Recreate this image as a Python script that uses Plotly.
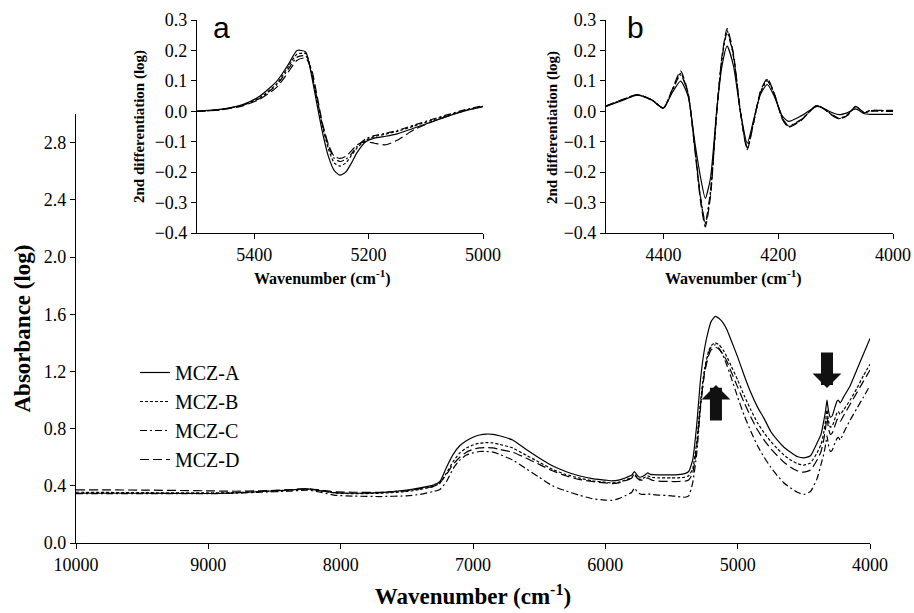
import plotly.graph_objects as go

# ---------------- main spectrum data ----------------
wn = [10000, 9500, 9000, 8800, 8600, 8400, 8250, 8150, 8050, 7900, 7700, 7500, 7400, 7300, 7250, 7200,
      7150, 7100, 7050, 7000, 6950, 6900, 6850, 6800, 6700, 6600, 6500, 6400, 6300, 6200, 6100, 6000,
      5950, 5900, 5850, 5800, 5780, 5760, 5740, 5720, 5700, 5680, 5660, 5640, 5600, 5500, 5450, 5400,
      5370, 5340, 5310, 5280, 5250, 5220, 5200, 5170, 5140, 5110, 5080, 5050, 5000, 4950, 4900, 4850,
      4800, 4750, 4700, 4650, 4600, 4550, 4500, 4450, 4400, 4370, 4350, 4335, 4325, 4315, 4300, 4285,
      4265, 4250, 4240, 4225, 4200, 4150, 4100, 4050, 4000]

mcz_a = [0.348, 0.348, 0.346, 0.35, 0.36, 0.37, 0.378, 0.365, 0.352, 0.348, 0.352, 0.37, 0.385, 0.405, 0.43, 0.53,
         0.62, 0.68, 0.715, 0.74, 0.755, 0.762, 0.76, 0.75, 0.72, 0.655, 0.595, 0.54, 0.50, 0.47, 0.45, 0.44,
         0.435, 0.44, 0.455, 0.475, 0.50, 0.475, 0.46, 0.465, 0.475, 0.49, 0.48, 0.478, 0.477, 0.476, 0.478, 0.485,
         0.50, 0.58, 0.82, 1.15, 1.36, 1.49, 1.55, 1.585, 1.57, 1.54, 1.49, 1.42, 1.30, 1.17, 1.05, 0.95,
         0.87, 0.78, 0.72, 0.67, 0.635, 0.605, 0.595, 0.61, 0.70, 0.76, 0.85, 0.93, 1.00, 0.93, 0.88, 0.89,
         0.95, 0.99, 1.00, 0.98, 1.02, 1.10, 1.21, 1.32, 1.43]

mcz_b = [0.355, 0.352, 0.35, 0.352, 0.36, 0.368, 0.375, 0.365, 0.35, 0.345, 0.348, 0.36, 0.375, 0.395, 0.42, 0.49,
         0.57, 0.63, 0.665, 0.685, 0.698, 0.702, 0.70, 0.69, 0.665, 0.615, 0.565, 0.515, 0.48, 0.455, 0.435, 0.425,
         0.42, 0.425, 0.44, 0.46, 0.48, 0.46, 0.445, 0.45, 0.46, 0.47, 0.462, 0.458, 0.456, 0.455, 0.456, 0.46,
         0.47, 0.52, 0.70, 1.0, 1.22, 1.34, 1.38, 1.40, 1.385, 1.35, 1.30, 1.24, 1.14, 1.03, 0.93, 0.84,
         0.77, 0.71, 0.66, 0.615, 0.58, 0.555, 0.545, 0.56, 0.63, 0.69, 0.77, 0.86, 0.93, 0.86, 0.81, 0.82,
         0.87, 0.91, 0.92, 0.90, 0.93, 1.00, 1.08, 1.17, 1.25]

mcz_c = [0.345, 0.345, 0.345, 0.348, 0.355, 0.362, 0.37, 0.355, 0.335, 0.328, 0.325, 0.33, 0.34, 0.36, 0.375, 0.43,
         0.52, 0.58, 0.615, 0.63, 0.64, 0.64, 0.635, 0.62, 0.58, 0.52, 0.46, 0.40, 0.365, 0.335, 0.31, 0.30,
         0.298, 0.31, 0.33, 0.355, 0.385, 0.36, 0.345, 0.34, 0.34, 0.345, 0.34, 0.338, 0.335, 0.33, 0.325, 0.32,
         0.33, 0.42, 0.62, 0.95, 1.20, 1.33, 1.37, 1.385, 1.36, 1.31, 1.24, 1.16, 1.02, 0.89, 0.78, 0.68,
         0.60, 0.53, 0.47, 0.42, 0.385, 0.355, 0.34, 0.36, 0.45, 0.55, 0.62, 0.69, 0.75, 0.69, 0.64, 0.65,
         0.70, 0.73, 0.74, 0.72, 0.77, 0.86, 0.94, 1.02, 1.10]

mcz_d = [0.372, 0.37, 0.365, 0.362, 0.365, 0.372, 0.38, 0.37, 0.358, 0.355, 0.355, 0.365, 0.38, 0.395, 0.42, 0.48,
         0.55, 0.60, 0.635, 0.655, 0.665, 0.668, 0.665, 0.655, 0.635, 0.595, 0.55, 0.505, 0.47, 0.445, 0.43, 0.42,
         0.415, 0.42, 0.435, 0.455, 0.475, 0.455, 0.44, 0.44, 0.445, 0.455, 0.445, 0.437, 0.433, 0.43, 0.43, 0.432,
         0.44, 0.49, 0.67, 0.97, 1.19, 1.31, 1.35, 1.37, 1.355, 1.32, 1.27, 1.20, 1.09, 0.98, 0.88, 0.79,
         0.72, 0.66, 0.61, 0.565, 0.53, 0.505, 0.495, 0.51, 0.58, 0.64, 0.72, 0.81, 0.88, 0.81, 0.76, 0.77,
         0.82, 0.86, 0.87, 0.85, 0.89, 0.97, 1.05, 1.13, 1.21]

# ---------------- inset a (2nd derivative, 5500-5000) ----------------
wn_a = [5500, 5460, 5420, 5390, 5360, 5340, 5325, 5310, 5300, 5290, 5280, 5270, 5260, 5250, 5240, 5230,
        5220, 5205, 5190, 5170, 5150, 5120, 5090, 5060, 5030, 5000]
a_a = [0.0, 0.006, 0.022, 0.05, 0.10, 0.155, 0.20, 0.195, 0.12, 0.02, -0.075, -0.15, -0.195, -0.21, -0.20, -0.17,
       -0.135, -0.10, -0.088, -0.082, -0.074, -0.055, -0.035, -0.015, 0.002, 0.015]
a_b = [0.0, 0.005, 0.02, 0.045, 0.092, 0.148, 0.188, 0.19, 0.13, 0.035, -0.055, -0.125, -0.17, -0.18, -0.17, -0.145,
       -0.12, -0.095, -0.083, -0.075, -0.066, -0.048, -0.03, -0.012, 0.004, 0.016]
a_c = [0.0, 0.005, 0.02, 0.043, 0.088, 0.14, 0.178, 0.182, 0.13, 0.04, -0.05, -0.115, -0.155, -0.165, -0.158, -0.14,
       -0.115, -0.09, -0.08, -0.072, -0.063, -0.045, -0.027, -0.01, 0.006, 0.018]
a_d = [0.0, 0.004, 0.018, 0.04, 0.08, 0.13, 0.168, 0.175, 0.14, 0.05, -0.045, -0.11, -0.148, -0.155, -0.148, -0.13,
       -0.11, -0.10, -0.105, -0.11, -0.095, -0.06, -0.035, -0.015, 0.003, 0.016]

# ---------------- inset b (2nd derivative, 4500-4000) ----------------
wn_b = [4500, 4475, 4445, 4420, 4400, 4385, 4370, 4357, 4345, 4335, 4327, 4318, 4307, 4298, 4289, 4278, 4266,
        4254, 4243, 4231, 4219, 4207, 4193, 4182, 4160, 4132, 4105, 4094, 4080, 4065, 4050, 4040, 4020, 4000]
b_a = [0.016, 0.033, 0.053, 0.037, 0.011, 0.06, 0.099, 0.05, -0.105, -0.22, -0.286, -0.22, 0.005, 0.148, 0.214, 0.15, 0.0,
       -0.105, -0.03, 0.055, 0.088, 0.05, -0.015, -0.033, -0.015, 0.016, -0.005, -0.011, -0.005, 0.008, -0.008, -0.01, -0.01, -0.01]
b_b = [0.017, 0.035, 0.054, 0.037, 0.010, 0.068, 0.125, 0.058, -0.125, -0.29, -0.37, -0.27, 0.0, 0.175, 0.265, 0.185, 0.0,
       -0.122, -0.038, 0.062, 0.104, 0.058, -0.022, -0.05, -0.028, 0.019, -0.013, -0.024, -0.013, 0.015, -0.005, 0.002, 0.002, 0.002]
b_c = [0.017, 0.035, 0.054, 0.037, 0.010, 0.066, 0.12, 0.056, -0.122, -0.285, -0.365, -0.265, 0.0, 0.172, 0.26, 0.18, 0.0,
       -0.12, -0.036, 0.06, 0.10, 0.056, -0.02, -0.048, -0.027, 0.018, -0.012, -0.023, -0.012, 0.014, -0.004, 0.0, 0.0, 0.0]
b_d = [0.018, 0.036, 0.055, 0.037, 0.010, 0.07, 0.132, 0.06, -0.13, -0.30, -0.38, -0.28, 0.0, 0.18, 0.272, 0.19, 0.0,
       -0.126, -0.04, 0.065, 0.108, 0.06, -0.025, -0.052, -0.03, 0.02, -0.015, -0.025, -0.015, 0.016, -0.005, 0.003, 0.003, 0.003]

names = ["MCZ-A", "MCZ-B", "MCZ-C", "MCZ-D"]
dashes = ["solid", "3px,2px", "7px,3px,2px,3px", "9px,4px"]

SERIF = "Liberation Serif, Times New Roman, Times, serif"
fig = go.Figure()

for name, ys, dash in zip(names, [mcz_a, mcz_b, mcz_c, mcz_d], dashes):
    fig.add_trace(go.Scatter(x=wn, y=ys, mode="lines", name=name,
                             line=dict(color="black", width=1.2, dash=dash, shape="spline", smoothing=0.5),
                             xaxis="x", yaxis="y"))
for ys, dash in zip([a_a, a_b, a_c, a_d], dashes):
    fig.add_trace(go.Scatter(x=wn_a, y=ys, mode="lines", showlegend=False,
                             line=dict(color="black", width=1.2, dash=dash, shape="spline", smoothing=0.6),
                             xaxis="x2", yaxis="y2"))
for ys, dash in zip([b_a, b_b, b_c, b_d], dashes):
    fig.add_trace(go.Scatter(x=wn_b, y=ys, mode="lines", showlegend=False,
                             line=dict(color="black", width=1.2, dash=dash, shape="spline", smoothing=0.6),
                             xaxis="x3", yaxis="y3"))

# the page body margin is removed (post_script below), so the figure fills the window
W, H = 914, 613
def px_x(p):
    return p / W
def px_y(p):
    return (H - p) / H

axis_common = dict(showline=True, linecolor="black", linewidth=1.2, ticks="outside", ticklen=5,
                   tickcolor="black", tickwidth=1.2, showgrid=False, zeroline=False, automargin=False,
                   tickfont=dict(family=SERIF, size=18, color="black"))

fig.update_layout(
    width=W, height=H, margin=dict(l=0, r=0, t=0, b=0, autoexpand=False),
    paper_bgcolor="white", plot_bgcolor="rgba(0,0,0,0)",
    font=dict(family=SERIF, color="black"),
    xaxis=dict(domain=[px_x(76), px_x(870)], range=[10000, 4000], tickvals=[10000, 9000, 8000, 7000, 6000, 5000, 4000],
               tickformat="d", anchor="y",
               title=dict(text="<b>Wavenumber (cm<sup>-1</sup>)</b>", font=dict(family=SERIF, size=23, color="black"),
                          standoff=14),
               **axis_common),
    yaxis=dict(domain=[px_y(543), px_y(114)], range=[0, 3.0], tickvals=[0, 0.4, 0.8, 1.2, 1.6, 2.0, 2.4, 2.8],
               tickformat=".1f", anchor="x",
               title=dict(text="<b>Absorbance (log)</b>", font=dict(family=SERIF, size=23, color="black"),
                          standoff=6),
               **axis_common),
    xaxis2=dict(domain=[px_x(197), px_x(483)], range=[5500, 5000], tickvals=[5400, 5200, 5000], tickformat="d",
                anchor="y2", **axis_common),
    yaxis2=dict(domain=[px_y(233), px_y(20)], range=[-0.4, 0.3], tickvals=[-0.4, -0.3, -0.2, -0.1, 0, 0.1, 0.2, 0.3],
                tickformat=".1f", anchor="x2", **axis_common),
    xaxis3=dict(domain=[px_x(606), px_x(893)], range=[4500, 4000], tickvals=[4400, 4200, 4000], tickformat="d",
                anchor="y3", **axis_common),
    yaxis3=dict(domain=[px_y(233), px_y(20)], range=[-0.4, 0.3], tickvals=[-0.4, -0.3, -0.2, -0.1, 0, 0.1, 0.2, 0.3],
                tickformat=".1f", anchor="x3", **axis_common),
    legend=dict(x=px_x(135), y=px_y(353), xanchor="left", yanchor="top", bgcolor="rgba(0,0,0,0)",
                font=dict(family=SERIF, size=20, color="black"), tracegroupgap=0),
    showlegend=True,
)

# inset titles and panel letters
ann = []
for cx, cy in [(322, 277), (733, 277)]:
    ann.append(dict(x=px_x(cx), y=px_y(cy), xref="paper", yref="paper", showarrow=False,
                    text="<b>Wavenumber (cm<sup>-1</sup>)</b>", font=dict(family=SERIF, size=16, color="black"),
                    xanchor="center", yanchor="middle"))
for cx, cy in [(140, 127), (553, 128)]:
    ann.append(dict(x=px_x(cx), y=px_y(cy), xref="paper", yref="paper", showarrow=False, textangle=-90,
                    text="<b>2nd differentiation (log)</b>", font=dict(family=SERIF, size=15, color="black"),
                    xanchor="center", yanchor="middle"))
for letter, cx, cy in [("a", 221, 27), ("b", 635, 27)]:
    ann.append(dict(x=px_x(cx), y=px_y(cy), xref="paper", yref="paper", showarrow=False,
                    text=letter, font=dict(family="Liberation Sans, Arial, sans-serif", size=30, color="black"),
                    xanchor="center", yanchor="middle"))
# arrows on main plot
ann.append(dict(x=5164, y=1.105, xref="x", yref="y", ax=0, ay=37, axref="pixel", ayref="pixel", text="",
                showarrow=True, arrowhead=1, arrowsize=0.4, arrowwidth=12, arrowcolor="#111", standoff=0))
ann.append(dict(x=4325, y=1.084, xref="x", yref="y", ax=0, ay=-37, axref="pixel", ayref="pixel", text="",
                showarrow=True, arrowhead=1, arrowsize=0.4, arrowwidth=12, arrowcolor="#111", standoff=0))
fig.update_layout(annotations=ann)

fig.write_html("out.html", config={"displayModeBar": False},
               post_script="document.body.style.margin='0';document.body.style.overflow='hidden';")
